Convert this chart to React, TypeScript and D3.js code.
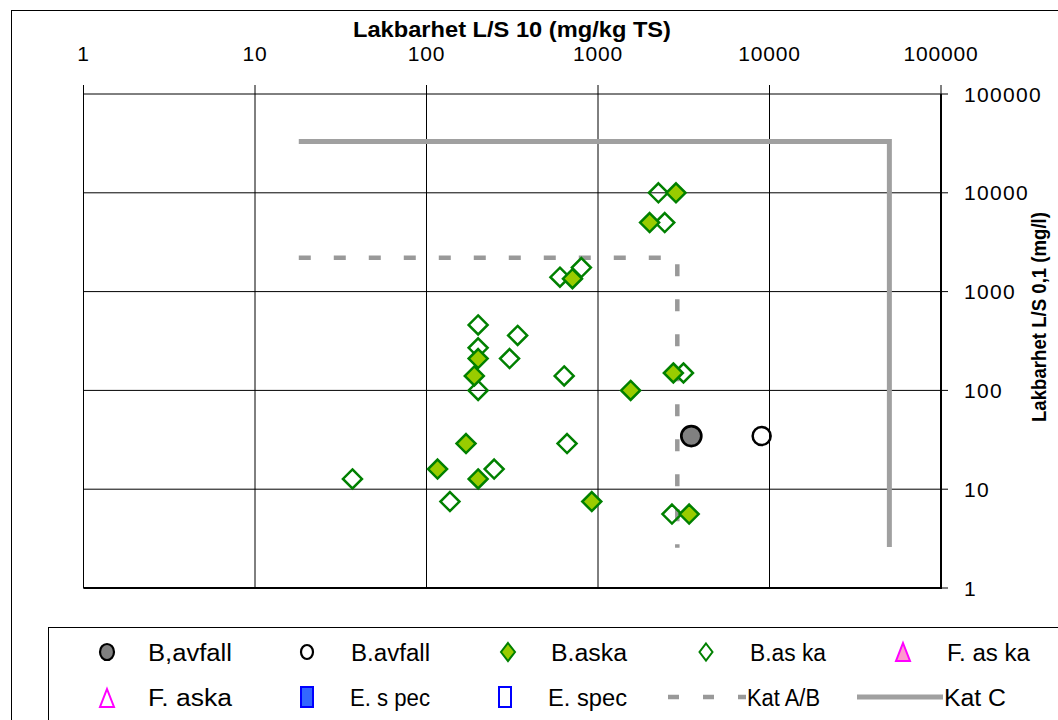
import React from "react";
import * as d3 from "d3";

const xTickValues = [1, 10, 100, 1000, 10000, 100000];
const xTickLabels = ["1", "10", "100", "1000", "10000", "100000"];
const yTickValues = [1, 10, 100, 1000, 10000, 100000];
const yTickLabels = ["1", "10", "100", "1000", "10000", "100000"];

// B,avfall (filled grey circle)
const bAvfallFilledX = [3500];
const bAvfallFilledY = [34.5];
// B.avfall (open circle)
const bAvfallOpenX = [9000];
const bAvfallOpenY = [34.5];
// B.aska filled diamonds
const bAskaFilledX = [2850, 2000, 710, 200, 190, 1550, 2750, 170, 116, 200, 920, 3400];
const bAskaFilledY = [10000, 5000, 1350, 210, 140, 100, 150, 29, 16, 12.7, 7.5, 5.6];
// B.aska open diamonds
const bAskaOpenX = [2250, 2450, 600, 800, 200, 340, 200, 305, 635, 3150, 200, 37, 137, 248, 660, 2700];
const bAskaOpenY = [10000, 5000, 1400, 1750, 460, 360, 270, 210, 140, 150, 100, 12.7, 7.5, 16, 29, 5.6];
// Kat lines
const katABX = [18, 2900, 2900];
const katABY = [2200, 2200, 2.55];
const katCX = [18, 50000, 50000];
const katCY = [33000, 33000, 2.6];

const legendRow1 = ["B,avfall", "B.avfall", "B.aska", "B.as ka", "F. as ka"];
const legendRow2 = ["F. aska", "E. s pec", "E. spec", "Kat A/B", "Kat C"];

const FONT = "'Liberation Sans', Arial, sans-serif";

function diamond(cx: number, cy: number, rx: number, ry: number = rx) {
  return `M${cx},${cy - ry}L${cx + rx},${cy}L${cx},${cy + ry}L${cx - rx},${cy}Z`;
}
function triangle(cx: number, cy: number, w: number, h: number) {
  return `M${cx},${cy - h / 2}L${cx + w / 2},${cy + h / 2}L${cx - w / 2},${cy + h / 2}Z`;
}

export default function App() {
  const x = d3.scaleLog().domain([1, 100000]).range([83.5, 941]);
  const y = d3.scaleLog().domain([1, 100000]).range([588, 94]);

  const pathOf = (xs: number[], ys: number[]) =>
    d3.line<[number, number]>().x((d) => x(d[0])).y((d) => y(d[1]))(xs.map((v, i) => [v, ys[i]] as [number, number])) as string;

  const green = "#008000";
  const lime = "#99CC00";
  const grey = "#999999";

  const r1x = [107, 307, 508, 706, 903];
  const r1t = [148, 351, 551, 750, 947];
  const r1w = [84, 79, 76, 76, 83];
  const r2x = [107, 307, 505];
  const r2t = [148, 350, 548];
  const r2w = [84, 80, 79];
  const ly1 = 652;
  const ly2 = 697;

  return (
    <svg
      width={1058}
      height={720}
      style={{ position: "absolute", left: 0, top: 0, background: "#fff" }}
      fontFamily={FONT}
    >
      <rect x={0} y={0} width={1058} height={720} fill="#fff" />
      <rect x={11.5} y={10.5} width={1100} height={800} fill="none" stroke="#000" strokeWidth={1} />

      {/* gridlines */}
      {xTickValues.map((v) => (
        <line key={"gx" + v} x1={x(v)} x2={x(v)} y1={y(1)} y2={y(100000)} stroke="#000" strokeWidth={1} />
      ))}
      {yTickValues.map((v) => (
        <line key={"gy" + v} x1={x(1)} x2={x(100000)} y1={y(v)} y2={y(v)} stroke="#000" strokeWidth={1} />
      ))}
      {/* top ticks */}
      {xTickValues.map((v) => (
        <line key={"tx" + v} x1={x(v)} x2={x(v)} y1={y(100000)} y2={y(100000) - 9} stroke="#000" strokeWidth={1} />
      ))}
      {/* right axis */}
      <line x1={x(100000)} x2={x(100000)} y1={y(100000)} y2={y(1) + 1} stroke="#000" strokeWidth={2} />
      <line x1={x(1)} x2={x(100000)} y1={y(1)} y2={y(1)} stroke="#000" strokeWidth={2} />
      {yTickValues.map((v) => (
        <line key={"ty" + v} x1={x(100000)} x2={x(100000) + 7} y1={y(v)} y2={y(v)} stroke="#000" strokeWidth={1} />
      ))}

      {/* tick labels */}
      {xTickValues.map((v, i) => (
        <text key={"lx" + v} x={x(v)} y={61} textAnchor="middle" fontSize={21} letterSpacing={0.8} fill="#000">
          {xTickLabels[i]}
        </text>
      ))}
      {yTickValues.map((v, i) => (
        <text key={"ly" + v} x={964} y={y(v) + 7.5} textAnchor="start" fontSize={21} letterSpacing={1.3} fill="#000">
          {yTickLabels[i]}
        </text>
      ))}

      {/* axis titles */}
      <text x={512} y={37} textAnchor="middle" fontSize={21.5} fontWeight="bold" fill="#000" textLength={318} lengthAdjust="spacingAndGlyphs">
        Lakbarhet L/S 10 (mg/kg TS)
      </text>
      <text
        transform={`translate(1046,317) rotate(-90)`}
        textAnchor="middle"
        fontSize={20}
        fontWeight="bold"
        fill="#000"
        textLength={210}
        lengthAdjust="spacingAndGlyphs"
      >
        Lakbarhet L/S 0,1 (mg/l)
      </text>

      {/* Kat lines */}
      <path d={pathOf(katCX, katCY)} fill="none" stroke="#a0a0a0" strokeWidth={5} strokeLinejoin="miter" />
      <path
        d={pathOf(katABX, katABY)}
        fill="none"
        stroke={grey}
        strokeWidth={4.5}
        strokeDasharray="12,23"
        strokeLinejoin="miter"
      />

      {/* markers */}
      {bAskaOpenX.map((v, i) => (
        <path key={"bo" + i} d={diamond(x(v), y(bAskaOpenY[i]), 9.5)} fill="none" stroke={green} strokeWidth={2.5} />
      ))}
      {bAskaFilledX.map((v, i) => (
        <path key={"bf" + i} d={diamond(x(v), y(bAskaFilledY[i]), 9.5)} fill={lime} stroke={green} strokeWidth={2.5} />
      ))}
      {bAvfallFilledX.map((v, i) => (
        <circle key={"cf" + i} cx={x(v)} cy={y(bAvfallFilledY[i])} r={10} fill="#808080" stroke="#000" strokeWidth={2.7} />
      ))}
      {bAvfallOpenX.map((v, i) => (
        <circle key={"co" + i} cx={x(v)} cy={y(bAvfallOpenY[i])} r={9} fill="none" stroke="#000" strokeWidth={2.5} />
      ))}

      {/* legend */}
      <rect x={48.5} y={627.5} width={1100} height={200} fill="#fff" stroke="#000" strokeWidth={1} />
      <ellipse cx={r1x[0]} cy={ly1} rx={7} ry={8} fill="#808080" stroke="#000" strokeWidth={2.2} />
      <ellipse cx={r1x[1]} cy={ly1} rx={6} ry={7} fill="none" stroke="#000" strokeWidth={2.2} />
      <path d={diamond(r1x[2], ly1, 7, 9)} fill={lime} stroke={green} strokeWidth={2} />
      <path d={diamond(r1x[3], ly1, 6.5, 8.5)} fill="none" stroke={green} strokeWidth={2} />
      <path d={triangle(r1x[4], ly1, 14, 18)} fill="#ff99cc" stroke="#ff00ff" strokeWidth={2} />
      {legendRow1.map((t, i) => (
        <text key={"l1" + i} x={r1t[i]} y={ly1 + 8.5} fontSize={23} fill="#000" textLength={r1w[i]} lengthAdjust="spacingAndGlyphs">
          {t}
        </text>
      ))}
      <path d={triangle(r2x[0], ly2 + 1, 14, 18)} fill="none" stroke="#ff00ff" strokeWidth={2} />
      <rect x={r2x[1] - 6} y={ly2 - 10} width={12} height={20} fill="#3366ff" stroke="#0000ff" strokeWidth={2} />
      <rect x={r2x[2] - 6} y={ly2 - 10} width={12} height={20} fill="none" stroke="#0000ff" strokeWidth={2} />
      {legendRow2.slice(0, 3).map((t, i) => (
        <text key={"l2" + i} x={r2t[i]} y={ly2 + 8.5} fontSize={23} fill="#000" textLength={r2w[i]} lengthAdjust="spacingAndGlyphs">
          {t}
        </text>
      ))}
      <line x1={668} x2={746} y1={ly2} y2={ly2} stroke={grey} strokeWidth={4.5} strokeDasharray="11,24" />
      <text x={747} y={ly2 + 8.5} fontSize={23} fill="#000" textLength={73} lengthAdjust="spacingAndGlyphs">
        {legendRow2[3]}
      </text>
      <line x1={857} x2={943} y1={ly2} y2={ly2} stroke="#a0a0a0" strokeWidth={5} />
      <text x={944} y={ly2 + 8.5} fontSize={23} fill="#000" textLength={62} lengthAdjust="spacingAndGlyphs">
        {legendRow2[4]}
      </text>
    </svg>
  );
}
